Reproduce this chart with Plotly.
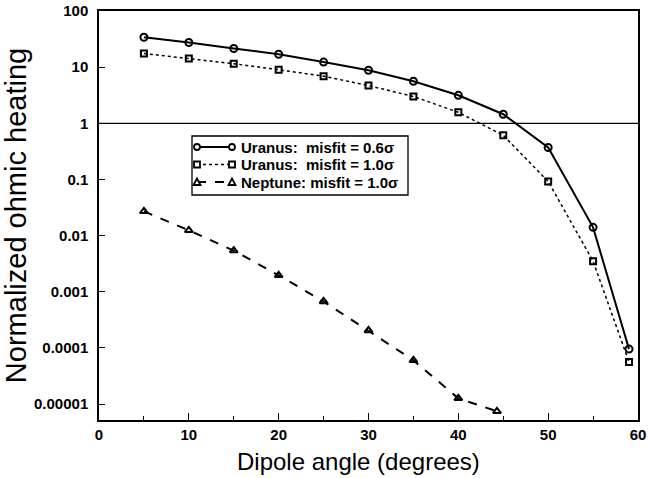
import plotly.graph_objects as go

angles_u = [5, 10, 15, 20, 25, 30, 35, 40, 45, 50, 55, 59]
uranus_06 = [34, 27.5, 21.5, 17, 12.3, 8.8, 5.6, 3.15, 1.45, 0.37, 0.014, 0.000095]
uranus_10 = [17.5, 14.3, 11.5, 9.0, 6.9, 4.7, 3.0, 1.57, 0.61, 0.092, 0.0035, 0.000056]
angles_n = [5, 10, 15, 20, 25, 30, 35, 40, 44.3]
neptune_10 = [0.027, 0.0124, 0.0054, 0.00196, 0.00067, 0.000204, 0.00006, 0.0000126, 0.0000074]

ytick_vals = [1e-5, 1e-4, 1e-3, 1e-2, 1e-1, 1, 10, 100]
ytick_text = ["0.00001", "0.0001", "0.001", "0.01", "0.1", "1", "10", "100"]
xtick_vals = [0, 10, 20, 30, 40, 50, 60]

names = ["Uranus:\u00a0 misfit = 0.6\u03c3",
         "Uranus:\u00a0 misfit = 1.0\u03c3",
         "Neptune: misfit = 1.0\u03c3"]

FONT = "Liberation Sans, Arial, Helvetica, sans-serif"

# plot-area pixel frame
PX_L, PX_R, PX_T, PX_B = 99, 638, 11, 420
W, H = 648, 478


def px(xp):
    return (xp - PX_L) / (PX_R - PX_L)


def py(yp):
    return (PX_B - yp) / (PX_B - PX_T)


line_styles = [dict(color="black", width=2, dash="solid"),
               dict(color="black", width=1.5, dash="dot"),
               dict(color="black", width=2, dash="dash")]
marker_styles = [dict(symbol="circle-open", size=7, color="black", line=dict(width=2)),
                 dict(symbol="square-open", size=6, color="black", line=dict(width=2)),
                 dict(symbol="triangle-up-open", size=7, color="black", line=dict(width=2))]

fig = go.Figure()
series = [(angles_u, uranus_06), (angles_u, uranus_10), (angles_n, neptune_10)]
for (xs, ys), nm, ls, ms in zip(series, names, line_styles, marker_styles):
    fig.add_trace(go.Scatter(x=xs, y=ys, name=nm, mode="lines+markers",
                             showlegend=False, line=ls, marker=ms))

# reference line at 1
fig.add_shape(type="line", xref="paper", x0=0, x1=1, yref="y", y0=1, y1=1,
              line=dict(color="black", width=1.2))

# hand-built legend (paper coordinates derived from pixel layout)
LEG_X0, LEG_X1, LEG_Y0, LEG_Y1 = 192, 408, 136, 195
ROW_Y = [147, 164.5, 182]
KEY_X0, KEY_X1 = 197, 232
TEXT_X = 240
fig.add_shape(type="rect", xref="paper", yref="paper",
              x0=px(LEG_X0), x1=px(LEG_X1), y0=py(LEG_Y1), y1=py(LEG_Y0),
              line=dict(color="black", width=1.3), fillcolor="white", layer="above")
for i, (ry, nm, ls) in enumerate(zip(ROW_Y, names, line_styles)):
    fig.add_shape(type="line", xref="paper", yref="paper",
                  x0=px(KEY_X0), x1=px(KEY_X1), y0=py(ry), y1=py(ry),
                  line=ls, layer="above")
    for kx in (KEY_X0, KEY_X1):
        if i == 0:
            fig.add_shape(type="circle", xref="paper", yref="paper",
                          x0=px(kx - 3), x1=px(kx + 3), y0=py(ry + 3), y1=py(ry - 3),
                          line=dict(color="black", width=1.8), fillcolor="white", layer="above")
        elif i == 1:
            fig.add_shape(type="rect", xref="paper", yref="paper",
                          x0=px(kx - 3), x1=px(kx + 3), y0=py(ry + 3), y1=py(ry - 3),
                          line=dict(color="black", width=1.8), fillcolor="white", layer="above")
        else:
            path = "M {:.5f},{:.5f} L {:.5f},{:.5f} L {:.5f},{:.5f} Z".format(
                px(kx - 3.5), py(ry + 3), px(kx + 3.5), py(ry + 3), px(kx), py(ry - 3.5))
            fig.add_shape(type="path", xref="paper", yref="paper", path=path,
                          line=dict(color="black", width=1.8), fillcolor="white", layer="above")
    fig.add_annotation(x=px(TEXT_X), y=py(ry), xref="paper", yref="paper", text=nm,
                       showarrow=False, xanchor="left", yanchor="middle", borderpad=0,
                       font=dict(size=15, family=FONT, color="black", weight="bold"))

fig.add_annotation(x=px(358), y=py(462), xref="paper", yref="paper",
                   text="Dipole angle (degrees)", showarrow=False,
                   xanchor="center", yanchor="middle",
                   font=dict(size=24, family=FONT, color="black"))

fig.update_layout(
    width=W, height=H,
    margin=dict(l=PX_L, r=W - PX_R, t=PX_T, b=H - PX_B, autoexpand=False),
    paper_bgcolor="white", plot_bgcolor="white",
    font=dict(family=FONT, color="black"),
    showlegend=False,
    xaxis=dict(
        range=[0, 60], tickvals=xtick_vals, automargin=False,
        ticks="inside", ticklen=7, tickwidth=1.2, tickcolor="black",
        minor=dict(dtick=5, ticks="inside", ticklen=4, tickcolor="black", tickwidth=1.2),
        showline=True, linecolor="black", linewidth=1.5, mirror=True,
        showgrid=False, zeroline=False,
        tickfont=dict(size=15, family="Liberation Sans, Arial", color="black", weight="bold"),
    ),
    yaxis=dict(
        type="log", range=[-5.285, 2], automargin=False,
        tickvals=ytick_vals, ticktext=ytick_text,
        ticks="inside", ticklen=6, tickwidth=1.2, tickcolor="black",
        ticklabelstandoff=6,
        showline=True, linecolor="black", linewidth=1.5, mirror=True,
        showgrid=False, zeroline=False,
        tickfont=dict(size=15, family="Liberation Sans, Arial", color="black", weight="bold"),
        title=dict(text="Normalized ohmic heating", font=dict(size=29, family=FONT), standoff=8),
    ),
)

fig.write_html("out.html")
